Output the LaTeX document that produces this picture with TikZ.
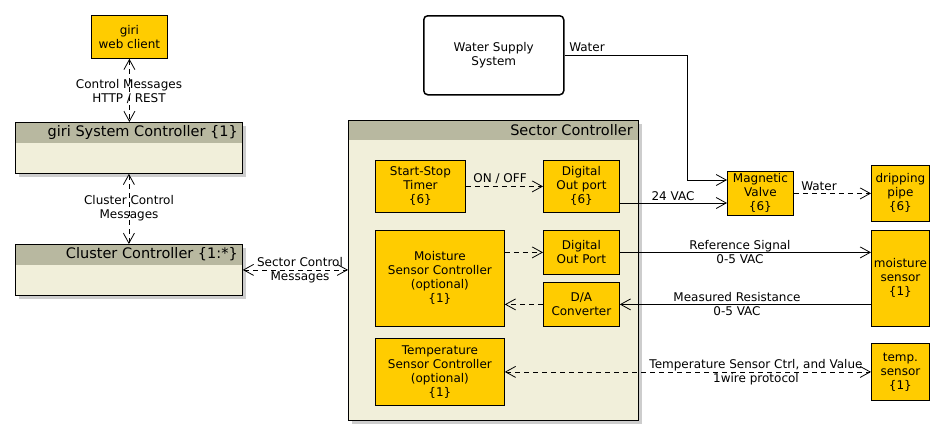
\documentclass[tikz,border=0pt]{standalone}
\usepackage{fontspec}
\setmainfont{DejaVu Sans}
\usetikzlibrary{arrows.meta}
\definecolor{compc}{RGB}{255,204,0}
\definecolor{hdrc}{RGB}{184,184,160}
\definecolor{bodyc}{RGB}{241,239,218}
\definecolor{shdc}{RGB}{205,205,205}
\begin{document}
\begin{tikzpicture}[x=1pt,y=-1pt,
  font=\fontsize{12}{14}\selectfont,
  comp/.style={draw=black, fill=compc, line width=0.8pt, inner sep=0pt, align=center, anchor=north west},
  frame/.style={draw=black, line width=0.8pt, inner sep=0pt, anchor=north west},
  ttl/.style={font=\fontsize{14.5}{17}\selectfont, anchor=east, inner sep=0pt},
  lbl/.style={align=center, inner sep=0pt},
  conn/.style={line width=0.8pt, -{Straight Barb[length=10pt,width=11pt]}},
  dconn/.style={conn, dash pattern=on 5pt off 4pt},
  bconn/.style={line width=0.8pt, dash pattern=on 5pt off 4pt, {Straight Barb[length=10pt,width=11pt]}-{Straight Barb[length=10pt,width=11pt]}}]
\useasboundingbox (0,0) rectangle (945,440);
\fill[white] (0,0) rectangle (945,440);

% giri web client
\node[comp, minimum width=76, minimum height=43] (web) at (91,15) {giri\\web client};

% giri System Controller
\fill[shdc] (19,126) rectangle (246,177);
\fill[bodyc] (15,122) rectangle (242,173);
\fill[hdrc] (15,122) rectangle (242,143);
\node[frame, minimum width=227, minimum height=51] (sys) at (15,122) {};
\node[ttl] at (238,132.5) {giri System Controller \{1\}};

% Cluster Controller
\fill[shdc] (19,248) rectangle (246,299);
\fill[bodyc] (15,244) rectangle (242,295);
\fill[hdrc] (15,244) rectangle (242,265);
\node[frame, minimum width=227, minimum height=51] (clu) at (15,244) {};
\node[ttl] at (238,254.5) {Cluster Controller \{1:*\}};

% Sector Controller
\fill[shdc] (352,124) rectangle (642,424);
\fill[bodyc] (348,120) rectangle (638,420);
\fill[hdrc] (348,120) rectangle (638,140);
\node[frame, minimum width=290, minimum height=300] (sec) at (348,120) {};
\node[ttl] at (633,130) {Sector Controller};

% inner components
\node[comp, minimum width=90, minimum height=52] (timer) at (375,160) {Start-Stop\\Timer\\\{6\}};
\node[comp, minimum width=76, minimum height=52] (dig1) at (543,160) {Digital\\Out port\\\{6\}};
\node[comp, minimum width=129, minimum height=96] (moist) at (375,230) {Moisture\\Sensor Controller\\(optional)\\\{1\}};
\node[comp, minimum width=76, minimum height=44] (dig2) at (543,230) {Digital\\Out Port};
\node[comp, minimum width=76, minimum height=44] (da) at (543,282) {D/A\\Converter};
\node[comp, minimum width=129, minimum height=67] (tctl) at (375,338) {Temperature\\Sensor Controller\\(optional)\\\{1\}};

% Water supply
\node[draw=black, line width=1.5pt, rounded corners=4pt, fill=white, minimum width=140, minimum height=79, anchor=north west, align=center, inner sep=0pt] (water) at (423,15) {Water Supply\\System};

% right components
\node[comp, minimum width=66, minimum height=44] (valve) at (727,171) {Magnetic\\Valve\\\{6\}};
\node[comp, minimum width=58, minimum height=56] (drip) at (871,165) {dripping\\pipe\\\{6\}};
\node[comp, minimum width=58, minimum height=96] (msens) at (871,230) {moisture\\sensor\\\{1\}};
\node[comp, minimum width=58, minimum height=57] (tsens) at (871,343) {temp.\\sensor\\\{1\}};

% connectors left
\draw[bconn] (web.south) -- (web.south |- sys.north);
\node[lbl] at (129,91) {Control Messages\\HTTP / REST};
\draw[bconn] (sys.south) -- (sys.south |- clu.north);
\node[lbl] at (129,208) {Cluster Control\\Messages};
\draw[bconn] (clu.east) -- (clu.east -| sec.west);
\node[lbl] at (300,270) {Sector Control\\Messages};

% inner connectors
\draw[dconn] (timer.east) -- (dig1.west);
\node[lbl] at (500,179) {ON / OFF};
\draw[dconn] (moist.east |- dig2.west) -- (dig2.west);
\draw[dconn] (da.west) -- (moist.east |- da.west);

% right connectors
\coordinate (w24) at (727,203);
\draw[conn] (dig1.east |- w24) -- (valve.west |- w24);
\node[lbl] at (673,196) {24 VAC};
\draw[conn] (water.east) -| (687,180) -- (valve.west |- 0,180);
\node[lbl] at (587,47) {Water};
\draw[dconn] (valve.east) -- (drip.west);
\node[lbl] at (819,186) {Water};
\draw[conn] (dig2.east) -- (dig2.east -| msens.west);
\node[lbl] at (740,252) {Reference Signal\\0-5 VAC};
\draw[conn] (msens.west |- da.east) -- (da.east);
\node[lbl] at (737,304) {Measured Resistance\\0-5 VAC};
\draw[bconn] (tctl.east) -- (tsens.west);
\node[lbl] at (756,372) {Temperature Sensor Ctrl, and Value\\1wire protocol};
\end{tikzpicture}
\end{document}
